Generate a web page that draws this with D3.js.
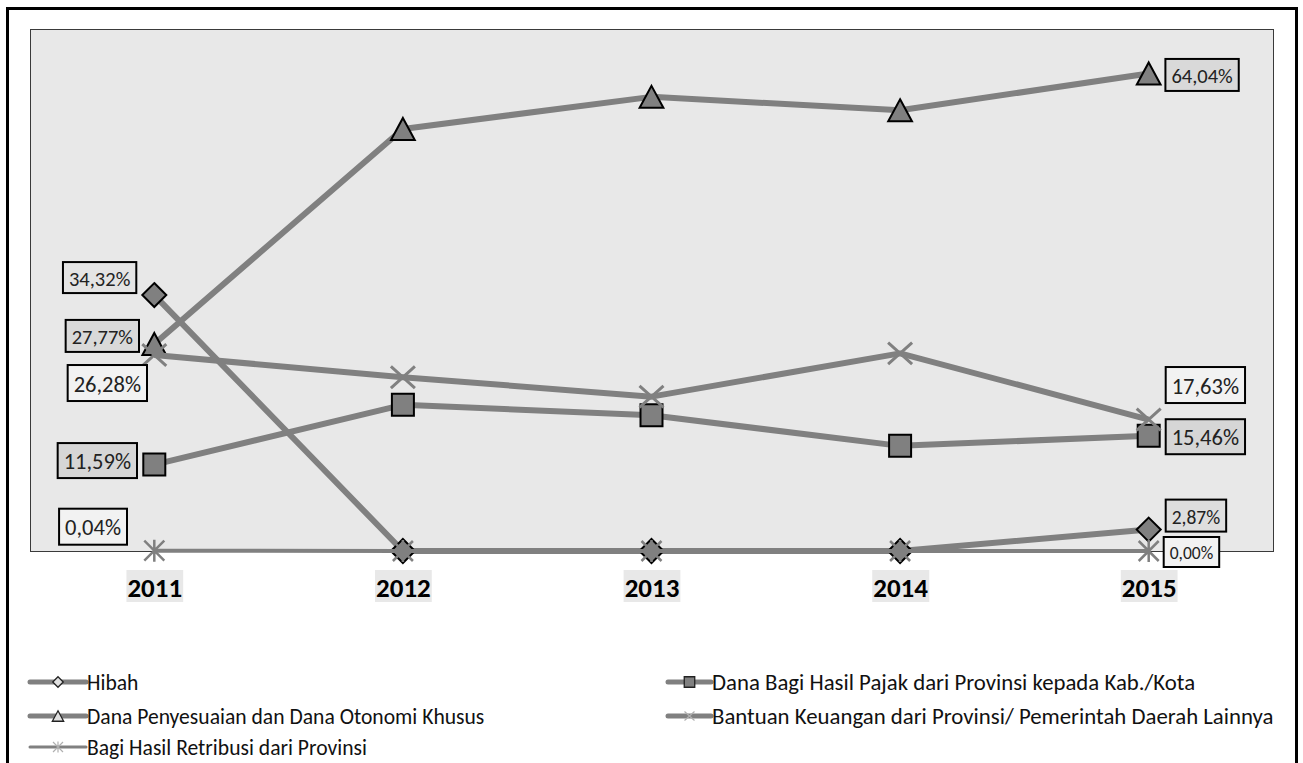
<!DOCTYPE html>
<html><head><meta charset="utf-8">
<script src="https://cdn.jsdelivr.net/npm/d3@7"></script>
<style>
html,body{margin:0;padding:0;background:#fff;}
svg{display:block;font-family:Carlito,Calibri,Lato,sans-serif;}
</style></head><body>
<svg id="chart" width="1303" height="763"></svg>
<script>
// ---------- DATA ----------
const years = ["2011", "2012", "2013", "2014", "2015"];
const seriesNames = [
  "Hibah",
  "Dana Bagi Hasil Pajak dari Provinsi kepada Kab./Kota",
  "Dana Penyesuaian dan Dana Otonomi Khusus",
  "Bantuan Keuangan dari Provinsi/ Pemerintah Daerah Lainnya",
  "Bagi Hasil Retribusi dari Provinsi"
];
const hibah = [34.32, 0.0, 0.0, 0.0, 2.87];
const danaBagiHasilPajak = [11.59, 19.6, 18.2, 14.1, 15.46];
const danaPenyesuaian = [27.77, 56.6, 60.9, 59.1, 64.04];
const bantuanKeuangan = [26.28, 23.3, 20.7, 26.5, 17.63];
const bagiHasilRetribusi = [0.04, 0.0, 0.0, 0.0, 0.00];
const yDomain = [0, 70];

// ---------- LAYOUT / STYLE ----------
const plot = {x0: 30, x1: 1273, y0: 29, y1: 551};
const svg = d3.select("#chart");

const x = d3.scalePoint().domain(years).range([plot.x0, plot.x1]).padding(0.5);
const y = d3.scaleLinear().domain(yDomain).range([plot.y1, plot.y0]);

// custom symbols
const symDiamond = {draw(c, s){ const r = Math.sqrt(s)/2; c.moveTo(0,-r); c.lineTo(r,0); c.lineTo(0,r); c.lineTo(-r,0); c.closePath(); }};
const symSquare = {draw(c, s){ const r = Math.sqrt(s)/2; c.rect(-r,-r,2*r,2*r); }};
const symTriangle = {draw(c, s){ const r = Math.sqrt(s)/2; c.moveTo(0,-r); c.lineTo(r*1.08,r); c.lineTo(-r*1.08,r); c.closePath(); }};
const symX = {draw(c, s){ const r = Math.sqrt(s)/2; c.moveTo(-r,-r*0.9); c.lineTo(r,r*0.9); c.moveTo(-r,r*0.9); c.lineTo(r,-r*0.9); }};
const symStar = {draw(c, s){ const r = Math.sqrt(s)/2; c.moveTo(-r,-r); c.lineTo(r,r); c.moveTo(-r,r); c.lineTo(r,-r); c.moveTo(0,-r*1.1); c.lineTo(0,r*1.1); }};

const fmt = v => d3.format(".2f")(v).replace(".", ",") + "%";

const series = [
  {name: seriesNames[0], values: hibah, sym: symDiamond, size: 24, lw: 6, filled: true,
   legendFill: "#e0e0e0",
   labels: [
     {i: 0, side: "left", gap: 18, dy: -17.5, fs: 20.5, fill: "#e4e4e4", h: 31},
     {i: 4, side: "right", gap: 17, dy: -14, fs: 19.5, fill: "#dedede", h: 32}
   ]},
  {name: seriesNames[1], values: danaBagiHasilPajak, sym: symSquare, size: 22, lw: 6, filled: true,
   legendFill: "#808080",
   labels: [
     {i: 0, side: "left", gap: 17.3, dy: -4, fs: 22.5, fill: "#d6d6d6", h: 35},
     {i: 4, side: "right", gap: 17, dy: 1, fs: 22.5, fill: "#d6d6d6", h: 35}
   ]},
  {name: seriesNames[2], values: danaPenyesuaian, sym: symTriangle, size: 22, lw: 6, filled: true,
   legendFill: "#e0e0e0",
   labels: [
     {i: 0, side: "left", gap: 15.3, dy: -8, fs: 20.5, fill: "#d9d9d9", h: 32},
     {i: 4, side: "right", gap: 16.7, dy: 1.5, fs: 20.5, fill: "#d9d9d9", h: 32}
   ]},
  {name: seriesNames[3], values: bantuanKeuangan, sym: symX, size: 24, lw: 6, filled: false, mw: 3,
   labels: [
     {i: 0, side: "left", gap: 7.3, dy: 28, fs: 22.5, fill: "#f2f2f2", h: 36},
     {i: 4, side: "right", gap: 17, dy: -34.5, fs: 22.5, fill: "#f2f2f2", h: 36}
   ]},
  {name: seriesNames[4], values: bagiHasilRetribusi, sym: symStar, size: 20, lw: 4, filled: false, mw: 2.5,
   labels: [
     {i: 0, side: "left", gap: 27.3, dy: -24, fs: 22.5, fill: "#f2f2f2", h: 36},
     {i: 4, side: "right", gap: 15, dy: 1, fs: 17.5, fill: "#f2f2f2", h: 30}
   ]}
];

const lineColor = "#808080";

// outer border
svg.append("rect").attr("x", 7.5).attr("y", 8.5).attr("width", 1296.5 - 7.5).attr("height", 800)
  .attr("fill", "#fff").attr("stroke", "#000").attr("stroke-width", 3);

// plot area
svg.append("rect").attr("x", plot.x0 + 0.5).attr("y", plot.y0 + 0.5)
  .attr("width", plot.x1 - plot.x0).attr("height", plot.y1 - plot.y0)
  .attr("fill", "#e8e8e8").attr("stroke", "#3a3a3a").attr("stroke-width", 1);

// x axis labels
const xAxis = svg.append("g").attr("transform", `translate(0,${plot.y1})`)
  .call(d3.axisBottom(x).tickSize(0).tickPadding(0));
xAxis.select(".domain").remove();
xAxis.selectAll(".tick text")
  .attr("y", 46).attr("dy", null)
  .attr("font-family", "Carlito,Calibri,Lato,sans-serif")
  .attr("font-size", 27).attr("font-weight", "bold").attr("fill", "#000");
xAxis.selectAll(".tick").each(function(){
  const t = d3.select(this).select("text");
  const bb = t.node().getBBox();
  d3.select(this).insert("rect", "text")
    .attr("x", bb.x - 1).attr("y", 19).attr("width", bb.width + 2).attr("height", 32)
    .attr("fill", "#e8e8e8");
});

// lines
const lineGen = d3.line().x((d, i) => x(years[i])).y(d => y(d));
const gSeries = svg.append("g");
series.forEach(s => {
  const g = gSeries.append("g");
  g.append("path").datum(s.values).attr("d", lineGen)
    .attr("fill", "none").attr("stroke", lineColor).attr("stroke-width", s.lw)
    .attr("stroke-linejoin", "round");
  g.selectAll("path.m").data(s.values).join("path").attr("class", "m")
    .attr("transform", (d, i) => `translate(${x(years[i])},${y(d)})`)
    .attr("d", d3.symbol().type(s.sym).size(s.size * s.size))
    .attr("fill", s.filled ? lineColor : "none")
    .attr("stroke", s.filled ? "#000" : lineColor)
    .attr("stroke-width", s.filled ? 2 : s.mw);
});

// data labels
const gLab = svg.append("g");
series.forEach(s => {
  s.labels.forEach(L => {
    const px = x(years[L.i]), py = y(s.values[L.i]);
    const g = gLab.append("g");
    const rect = g.append("rect");
    const t = g.append("text").text(fmt(s.values[L.i]))
      .attr("font-size", L.fs).attr("fill", "#222")
      .attr("dominant-baseline", "central");
    const tw = t.node().getComputedTextLength();
    const pad = 6;
    const bw = tw + 2 * pad;
    const bx = L.side === "left" ? px - L.gap - bw : px + L.gap;
    const cy = py + L.dy;
    rect.attr("x", bx).attr("y", cy - L.h / 2).attr("width", bw).attr("height", L.h)
      .attr("fill", L.fill).attr("stroke", "#000").attr("stroke-width", 2);
    t.attr("x", bx + pad).attr("y", cy + 1);
  });
});

// legend
const legendPos = [
  {lx0: 30, lx1: 86, y: 682, fs: 21.6},
  {lx0: 668, lx1: 711, y: 682, fs: 22.8},
  {lx0: 30, lx1: 86, y: 716, fs: 21.6},
  {lx0: 668, lx1: 711, y: 716, fs: 22.8},
  {lx0: 30, lx1: 86, y: 747, fs: 21.6}
];
const gLeg = svg.append("g");
series.forEach((s, k) => {
  const p = legendPos[k];
  const g = gLeg.append("g");
  g.append("line").attr("x1", p.lx0).attr("x2", p.lx1).attr("y1", p.y).attr("y2", p.y)
    .attr("stroke", lineColor).attr("stroke-width", s.lw - 1).attr("stroke-linecap", "round");
  g.append("path")
    .attr("transform", `translate(${(p.lx0 + p.lx1) / 2},${p.y})`)
    .attr("d", d3.symbol().type(s.sym).size(s.filled ? 110 : 100))
    .attr("fill", s.filled ? s.legendFill : "none")
    .attr("stroke", s.filled ? "#222" : "#b0b0b0")
    .attr("stroke-width", s.filled ? 1.3 : 1.2);
  g.append("text").attr("x", p.lx1 + 1).attr("y", p.y).attr("dominant-baseline", "central")
    .attr("font-size", p.fs).attr("fill", "#111").text(s.name);
});
</script>
</body></html>
